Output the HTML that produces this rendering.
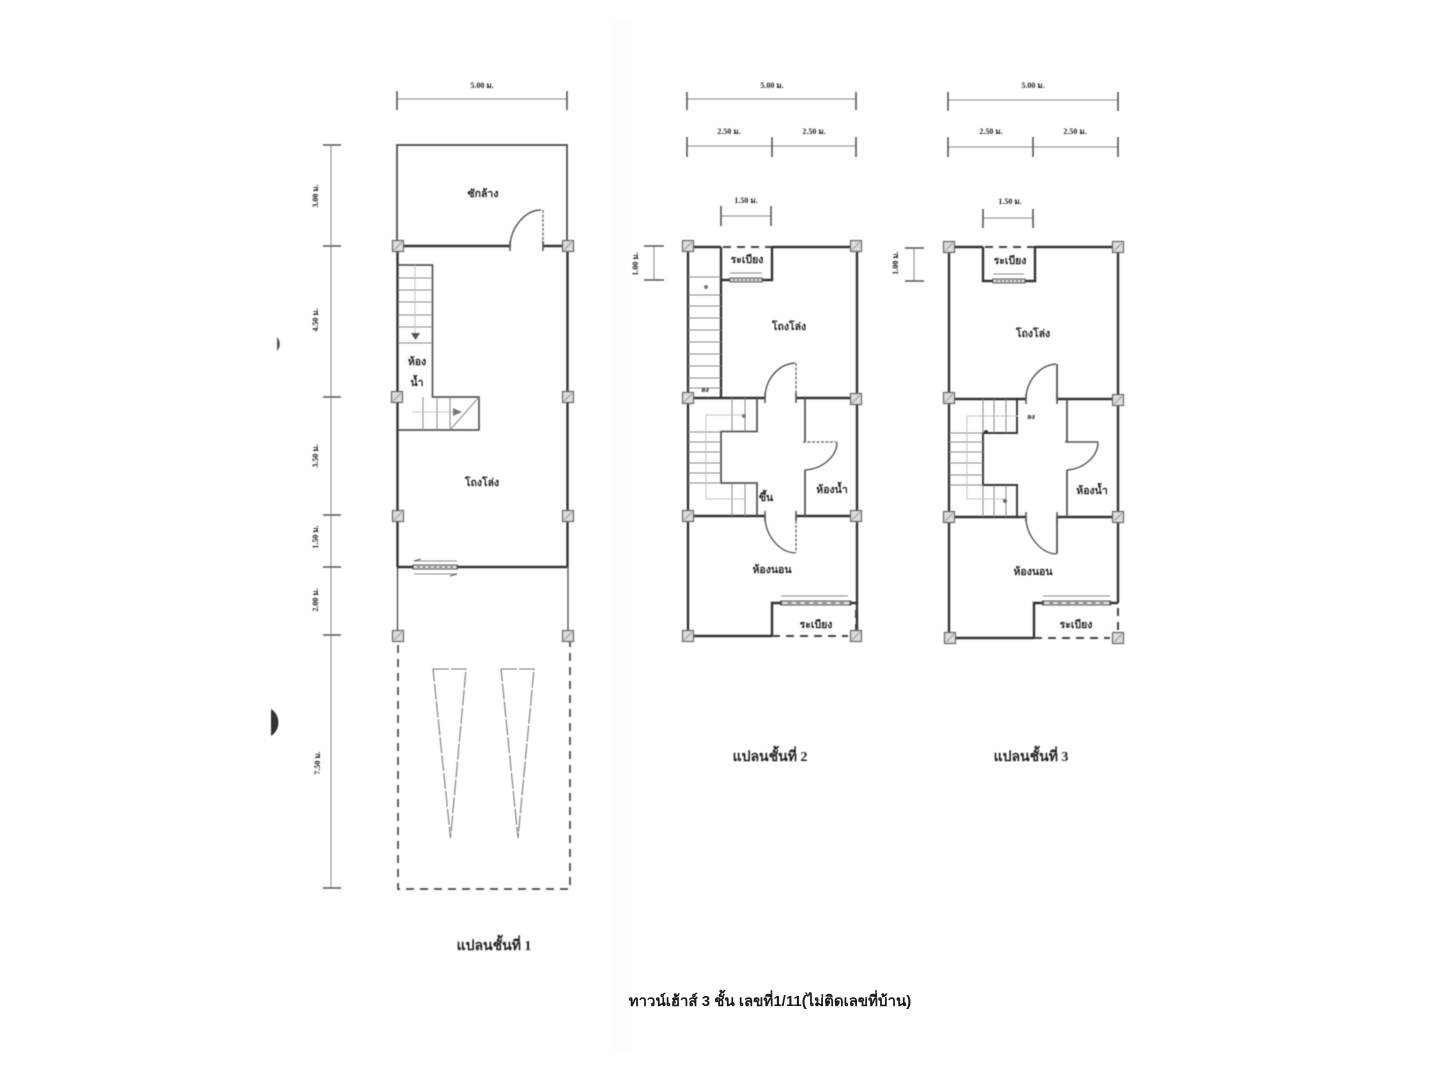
<!DOCTYPE html>
<html lang="th">
<head>
<meta charset="utf-8">
<title>ทาวน์เฮ้าส์ 3 ชั้น</title>
<style>
html,body{margin:0;padding:0;background:#fff;width:1440px;height:1080px;overflow:hidden}
svg{display:block}
.d{filter:blur(.6px)}
.w{stroke:#333;stroke-width:2.4;fill:none}
.t{stroke:#555;stroke-width:1.4;fill:none}
.l{stroke:#8a8a8a;stroke-width:1;fill:none}
.f{stroke:#c4c4c4;stroke-width:1;fill:none}
.dash{stroke:#444;stroke-width:2;fill:none;stroke-dasharray:8 6}
.gd{stroke:#777;stroke-width:1.5;fill:none;stroke-dasharray:3 1.5}
.tri{stroke:#777;stroke-width:1.1;fill:none;stroke-dasharray:16 2}
.tick{stroke:#555;stroke-width:1.6;fill:none}
.dim{stroke:#888;stroke-width:1;fill:none}
text{font-family:"Liberation Serif","DejaVu Serif","Noto Serif CJK SC",serif;fill:#222;text-anchor:middle;font-weight:bold}
.s{font-size:8px}
.m{font-size:10.5px}
.h{font-size:14px}
.cap{font-family:"Liberation Sans","DejaVu Sans","Noto Sans CJK SC",sans-serif;font-size:15px;fill:#1a1a1a}
</style>
</head>
<body>
<svg width="1440" height="1080" viewBox="0 0 1440 1080" xmlns="http://www.w3.org/2000/svg">
<defs>
<g id="c">
<rect x="-5.5" y="-5.5" width="11" height="11" fill="#dcdcdc" stroke="#666" stroke-width="1.2"/>
<path d="M-4 4L4-4" stroke="#999" stroke-width="1"/>
</g>
<g id="win">
<rect x="0" y="-2" width="32" height="4" fill="#ddd" stroke="#555" stroke-width="1"/>
<path d="M3 0h26" stroke="#666" stroke-width="1.2" stroke-dasharray="2 2"/>
</g>
</defs>
<rect x="612" y="20" width="20" height="1030" fill="#fdfdfd"/>
<g class="d">
<path d="M277 337a10 10 0 0 1 0 14z" fill="#555"/>
<path d="M271 709a16 16 0 0 1 0 27z" fill="#333"/>

<!-- PLAN 1 -->
<path class="dim" d="M397 99H567"/>
<path class="tick" d="M397 91V110M567 91V110"/>
<text class="s" x="482" y="88">5.00 ม.</text>
<path class="dim" d="M331 145V888"/>
<path class="tick" d="M323 145H341M323 246H341M323 397H341M323 515H341M323 567H341M323 635H341M323 888H341"/>
<text class="s" transform="translate(318,196) rotate(-90)">3.00 ม.</text>
<text class="s" transform="translate(318,320) rotate(-90)">4.50 ม.</text>
<text class="s" transform="translate(318,456) rotate(-90)">3.50 ม.</text>
<text class="s" transform="translate(318,537) rotate(-90)">1.50 ม.</text>
<text class="s" transform="translate(318,600) rotate(-90)">2.00 ม.</text>
<text class="s" transform="translate(320,763) rotate(-90)">7.50 ม.</text>

<path class="t" style="stroke-width:1.7;stroke:#444" d="M397 246V145H567V246"/>
<path class="w" d="M398 246H510M543 246H568"/>
<path class="w" d="M397.500 246V567M567.500 246V567"/>
<path class="t" d="M397.500 567V635M568 567V635"/>
<path class="w" d="M457 567H567M397 567H413"/>
<use href="#win" transform="translate(413,567) scale(1.38,1)"/>
<path class="l" d="M414 561H457M414 574H457"/>
<path d="M414 561l7-2M457 574l-7 2" stroke="#555" fill="none"/>
<path class="t" d="M510 246C511 226 526 210 541 210"/>
<path class="gd" d="M543 210V246"/>
<path class="tick" d="M510 241V251M543 241V251"/>

<path class="t" style="stroke-width:1.7" d="M398 265H432.500V397H479V430H398"/>
<path class="l" d="M398 278H432M398 290H432M398 302H432M398 315H432M398 327H432M398 343H432M423 397V430M437 397V430M450 397V430M450 430L479 397"/>
<path class="f" d="M415 265V335M412 412H460"/>
<path d="M411 333h9l-4.500 7z" fill="#555"/>
<path d="M453 408l9 4-9 4z" fill="#777"/>

<use href="#c" x="398" y="246"/><use href="#c" x="568" y="246"/>
<use href="#c" x="397" y="397"/><use href="#c" x="568" y="397"/>
<use href="#c" x="398" y="516"/><use href="#c" x="568" y="516"/>
<use href="#c" x="398" y="636"/><use href="#c" x="568" y="636"/>

<path class="dash" d="M398 645V889H570V642" style="stroke-width:1.7"/>
<path class="tri" d="M433 669H466L450.500 838Z"/>
<path class="tri" d="M501 669H534L518 838Z"/>

<text class="m" x="483" y="197">ซักล้าง</text>
<text class="m" x="417" y="365">ห้อง</text>
<text class="m" x="417" y="386">น้ำ</text>
<text class="m" x="482" y="486">โถงโล่ง</text>
<text class="h" x="494" y="950">แปลนชั้นที่ 1</text>

<!-- PLAN 2 -->
<path class="dim" d="M687 99H856M687 146H856M721 216H771"/>
<path class="tick" d="M687 92V110M856 92V110M687 137V157M772 137V157M856 137V157M721 206V226M771 206V226"/>
<text class="s" x="772" y="88">5.00 ม.</text>
<text class="s" x="729" y="134">2.50 ม.</text>
<text class="s" x="814" y="134">2.50 ม.</text>
<text class="s" x="746" y="203">1.50 ม.</text>
<path class="dim" d="M654 246V280"/>
<path class="tick" d="M644 246H664M644 280H664"/>
<text class="s" transform="translate(638,264) rotate(-90)">1.00 ม.</text>

<path class="w" d="M688 247H721M772 247H856M688 247V636M857 247V636"/>
<path class="dash" d="M723 247H772"/>
<path class="w" d="M721 247V398M772 247V280H761M721 280H730"/>
<use href="#win" x="730" y="280"/>
<path class="l" d="M730 273H762"/>
<path class="l" d="M688 277H721M688 295H721M688 306H721M688 318H721M688 330H721M688 342H721M688 354H721M688 366H721M688 378H721M688 388H721"/>
<circle cx="706" cy="287" r="2" fill="#777"/>
<text class="s" x="705" y="392" style="font-size:7px">ลง</text>
<path class="w" d="M688 398H765M796 398H856M688 516H765M796 516H856"/>
<path class="t" style="stroke-width:1.8" d="M757 398V431.500H721V483H757V516"/>
<path class="l" d="M732 398V431M745 398V431M732 483V516M745 483V516M688 432H721M688 442H721M688 452H721M688 463H721M688 473H721M688 483H721"/>
<path class="f" d="M745 415H706V499H745"/>
<circle cx="744" cy="416" r="2" fill="#777"/>
<path class="t" d="M765 398C765 380 778 364 795 363M765 516C765 534 778 552 795 553"/>
<path class="gd" d="M796 363V398M796 516V553"/>
<path class="tick" d="M765 393V403M765 511V521M796 393V403M796 511V521"/>
<path class="t" style="stroke-width:1.8" d="M805 398V442M805 470V516"/>
<path class="gd" d="M803 442H836"/>
<path class="t" d="M837 442C837 457 822 469 805 470"/>
<path class="w" d="M772 636V603H781M850 603H857M688 636H772"/>
<use href="#win" transform="translate(781,603) scale(2.170,1)"/>
<path class="l" d="M781 596H848"/>
<path class="dash" d="M772 636H848M856 610V630"/>
<use href="#c" x="688" y="246"/><use href="#c" x="856" y="246"/>
<use href="#c" x="688" y="398"/><use href="#c" x="856" y="399"/>
<use href="#c" x="688" y="516"/><use href="#c" x="856" y="516"/>
<use href="#c" x="688" y="636"/><use href="#c" x="856" y="636"/>

<text class="m" x="747" y="263">ระเบียง</text>
<text class="m" x="789" y="330">โถงโล่ง</text>
<text class="m" x="766" y="501">ขึ้น</text>
<text class="m" x="832" y="493">ห้องน้ำ</text>
<text class="m" x="772" y="573">ห้องนอน</text>
<text class="m" x="816" y="628">ระเบียง</text>
<text class="h" x="770" y="761">แปลนชั้นที่ 2</text>

<!-- PLAN 3 -->
<path class="dim" d="M948 100H1118M948 147H1118M983 218H1033"/>
<path class="tick" d="M948 92V111M1118 92V111M948 137V157M1033 137V157M1118 137V157M983 209V228M1033 209V228"/>
<text class="s" x="1033" y="88">5.00 ม.</text>
<text class="s" x="991" y="134">2.50 ม.</text>
<text class="s" x="1075" y="134">2.50 ม.</text>
<text class="s" x="1010" y="204">1.50 ม.</text>
<path class="dim" d="M914 248V281"/>
<path class="tick" d="M905 248H924M905 281H924"/>
<text class="s" transform="translate(898,263) rotate(-90)">1.00 ม.</text>

<path class="w" d="M949 247H983M1035 247H1118M949 247V638M1118 247V603M1118 400V517"/>
<path class="dash" d="M985 247H1035"/>
<path class="w" d="M983 247V281H993M1024 281H1035V247"/>
<use href="#win" x="993" y="281"/>
<path class="l" d="M993 274H1024"/>
<path class="w" d="M949 399H1026M1057 399H1118M949 517H1026M1057 517H1118"/>
<path class="w" style="stroke-width:1.9" d="M1017 399V433H983V485H1017V517"/>
<path class="l" d="M983 399V433M994 399V433M1006 399V433M983 485V517M994 485V517M1006 485V517M949 433H983M949 442H983M949 452H983M949 463H983M949 475H983M949 485H983"/>
<path class="f" d="M1018 416H967V499H1005"/>
<circle cx="1005" cy="501" r="2" fill="#666"/>
<circle cx="986" cy="432" r="2" fill="#333"/>
<text class="s" x="1031" y="419" style="font-size:7px">ลง</text>
<path class="t" d="M1026 399C1026 381 1040 365 1056 364M1026 517C1026 535 1040 553 1056 554"/>
<path class="t" style="stroke-width:1.8" d="M1057 364V399M1057 517V554"/>
<path class="tick" d="M1026 394V404M1026 512V522M1057 394V404M1057 512V522"/>
<path class="t" style="stroke-width:1.8" d="M1067 399V442M1067 470V517"/>
<path class="t" style="stroke-width:1.600" d="M1065 442H1098"/>
<path class="t" d="M1098 442C1098 457 1083 469 1067 470"/>
<path class="w" d="M1034 638V603H1043M1110 603H1118M950 638H1034"/>
<use href="#win" transform="translate(1043,603) scale(2.100,1)"/>
<path class="l" d="M1043 596H1110"/>
<path class="dash" d="M1034 638H1110M1118 608V630"/>
<use href="#c" x="949" y="247"/><use href="#c" x="1118" y="247"/>
<use href="#c" x="949" y="398"/><use href="#c" x="1118" y="400"/>
<use href="#c" x="949" y="517"/><use href="#c" x="1118" y="517"/>
<use href="#c" x="950" y="638"/><use href="#c" x="1118" y="638"/>

<text class="m" x="1010" y="264">ระเบียง</text>
<text class="m" x="1033" y="337">โถงโล่ง</text>
<text class="m" x="1092" y="494">ห้องน้ำ</text>
<text class="m" x="1033" y="575">ห้องนอน</text>
<text class="m" x="1076" y="628">ระเบียง</text>
<text class="h" x="1031" y="761">แปลนชั้นที่ 3</text>
</g>
<text class="cap" x="770" y="1006">ทาวน์เฮ้าส์ 3 ชั้น เลขที่1/11(ไม่ติดเลขที่บ้าน)</text>
</svg>
</body>
</html>
